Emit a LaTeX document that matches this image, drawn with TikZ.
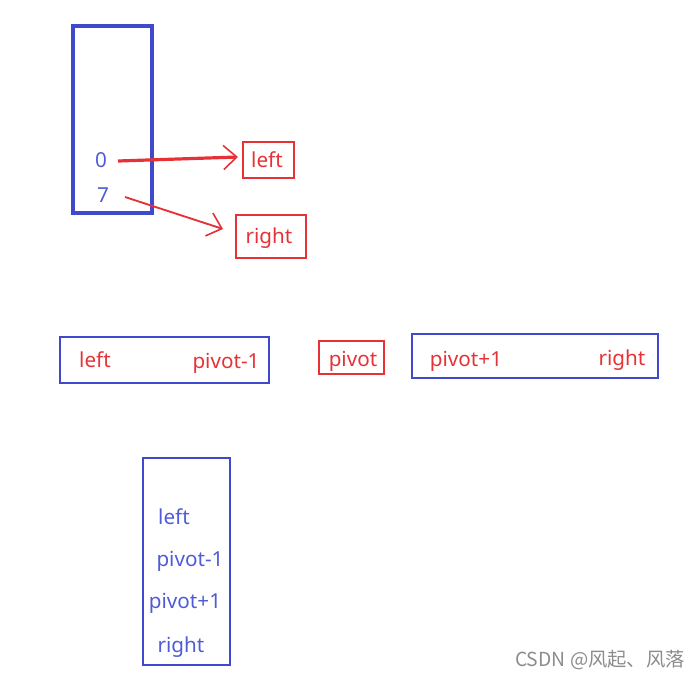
\documentclass[tikz,border=0pt]{standalone}
\usepackage{fontspec}
\setmainfont{Noto Sans}
\newfontfamily\cjkfont{Noto Sans CJK SC}
\usetikzlibrary{fit,arrows.meta}
\definecolor{boxblue}{RGB}{64,72,204}
\definecolor{txtblue}{RGB}{80,92,215}
\definecolor{myred}{RGB}{230,50,55}
\tikzset{
  bluebox/.style={draw=boxblue, line width=1.6pt, inner sep=0pt},
  redbox/.style={draw=myred, line width=1.1pt, inner sep=0pt},
  redtxt/.style={text=myred, font=\fontsize{15.5}{18}\selectfont, inner sep=0pt},
  bluetxt/.style={text=txtblue, font=\fontsize{15.5}{18}\selectfont, inner sep=0pt},
  redarrow/.style={draw=myred, -{Straight Barb[length=10pt,width=18pt,line width=1.2pt]}},
}
\begin{document}
\begin{tikzpicture}[x=0.75pt,y=-0.75pt]
\useasboundingbox (0,0) rectangle (699,678);
% top array box
\node[bluebox, line width=2.8pt, fit={(73,26) (152,213)}] (arr) {};
\node[bluetxt] (zero) at (101,160) {0};
\node[bluetxt] (seven) at (103,195) {7};
\node[redbox, fit={(243,142) (294,178)}] (lbox) {};
\node[redtxt] (ltxt) at (267,160) {left};
\node[redbox, fit={(236,215) (306,258)}] (rbox) {};
\node[redtxt] (rtxt) at (269,238) {right};
\coordinate (a1s) at (118,161);
\coordinate (a1e) at (238,157);
\coordinate (a2s) at (125,197);
\coordinate (a2e) at (223,229);
\draw[redarrow, line width=2.4pt] (a1s) -- (a1e);
\draw[redarrow, line width=1.4pt] (a2s) -- (a2e);
% middle row
\node[bluebox, fit={(60,337) (269,383)}] (lpart) {};
\node[redtxt] (l1) at (95,360) {left};
\node[redtxt] (l2) at (226,363) {pivot-1};
\node[redbox, fit={(319,341) (384,374)}] (pbox) {};
\node[redtxt] (p) at (353,361) {pivot};
\node[bluebox, line width=2pt, fit={(412,334) (658,378)}] (rpart) {};
\node[redtxt] (r1) at (466,361) {pivot+1};
\node[redtxt] (r2) at (622,360) {right};
% bottom stack box
\node[bluebox, fit={(143,458) (230,665)}] (stk) {};
\node[bluetxt] (s1) at (174,517) {left};
\node[bluetxt] (s2) at (190,561) {pivot-1};
\node[bluetxt] (s3) at (185,603) {pivot+1};
\node[bluetxt] (s4) at (181,647) {right};
% watermark
\node[text=black!45, font=\cjkfont\fontsize{14.5}{16}\selectfont, inner sep=0pt] (wm) at (600,660) {CSDN @风起、风落};
\end{tikzpicture}
\end{document}
